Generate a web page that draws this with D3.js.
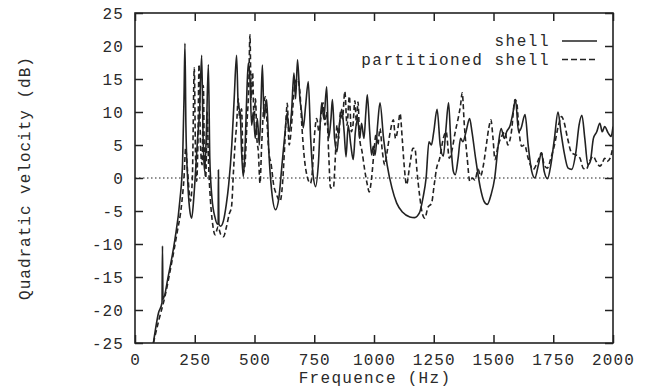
<!DOCTYPE html>
<html>
<head>
<meta charset="utf-8">
<script src="https://cdn.jsdelivr.net/npm/d3@7"></script>
<style>
  html, body { margin: 0; padding: 0; background: #fff; }
  text { font-family: "Liberation Mono", "Courier New", monospace; fill: #2a2a2a; }
</style>
</head>
<body>
<svg id="chart" width="649" height="389"></svg>
<script>
// [frequency Hz, level dB]
const shellPoints = [
  [77,-25],[98,-20.5],[113,-18.9],[115,-10.3],[117,-18.4],[139,-14.9],[167,-9.3],[188,-3.3],
  [199,2.3],[205,12],[209,20.4],[213,8],[220,0],[228,-4.5],[237,-6.1],[246,-3],[255,2],
  [262,6],[270,10],[279,18.6],[285,6],[291,1],[298,6],[307,17.2],[313,3],[322,-3],[335,-6],
  [345,-7],[348,-6.8],[349,1.2],[351,-7],[358,-7.3],[370,-6.5],[382,-4],[392,-1],[405,5],
  [415,12],[425,18.6],[432,11],[440,10],[446,4],[453,0.2],[460,4],[468,12.9],[474,17.4],
  [481,15],[488,8],[495,10],[503,6],[512,9],[520,5],[527,11],[533,17.1],[540,9],[551,11.9],
  [560,4],[572,-2],[588,-4.8],[602,-3],[615,2],[628,7],[636,9.8],[645,7],[655,10],[665,15.9],
  [672,12],[680,17.9],[690,12],[697,10],[704,7.6],[714,11],[725,14.6],[735,6],[745,0.5],
  [756,-1.3],[767,2],[781,11.4],[790,9],[802,13.8],[810,6],[820,9],[826,11.9],[835,6],[845,4],
  [855,8],[865,10.4],[875,7],[883,3.2],[892,8],[903,5],[913,2.8],[922,7],[932,9],[940,6],
  [948,8.3],[958,6],[966,10],[972,12.6],[982,7],[990,3.5],[997,4.8],[1005,3.5],[1015,8],
  [1025,11.4],[1040,6],[1055,2],[1075,-1.5],[1095,-3.8],[1120,-5.2],[1150,-5.9],[1170,-6],
  [1190,-5.3],[1205,-3],[1218,0],[1230,5.5],[1240,5],[1250,7],[1264,10.4],[1277,5],[1290,3.3],
  [1300,7],[1312,11.4],[1322,5],[1332,1],[1340,0.5],[1352,3],[1362,6],[1372,5.5],[1385,7],
  [1400,9],[1410,7],[1425,3],[1445,-1.5],[1460,-3.5],[1474,-4],[1490,-2.5],[1505,0],[1520,5],
  [1532,7.5],[1545,6],[1555,7],[1570,8],[1582,10],[1592,11.9],[1605,7],[1615,7.5],[1632,9.6],
  [1645,5],[1660,1],[1673,0],[1688,2],[1701,3.8],[1712,1],[1726,-0.1],[1740,2],[1755,6],
  [1770,10],[1782,7],[1795,4],[1812,1.5],[1827,1.3],[1845,4],[1858,8],[1870,9.5],[1882,6],
  [1895,2],[1905,2.5],[1918,6],[1932,7],[1945,8.3],[1955,7],[1965,7.8],[1980,6.8],[1992,6.3],
  [2000,7.8]
];

const partitionedPoints = [
  [77,-25],[100,-21.5],[125,-18],[150,-13.5],[175,-8.5],[195,-4],[205,0],[212,4.5],[220,1],
  [232,-3.5],[240,0],[248,16.7],[253,4],[258,-0.5],[263,5],[268,17.2],[274,5],[281,2],[286,14],
  [290,4],[296,0],[302,10],[307,3],[315,-3],[325,-7],[335,-8.6],[348,-7.4],[358,-8.5],[370,-8.9],
  [382,-7.5],[394,-5.5],[404,-4.3],[412,1],[418,4.8],[425,8],[432,12],[438,9],[446,10.5],
  [453,0.8],[460,2],[468,8],[476,14],[481,21.7],[486,12],[492,16],[498,9],[504,12],[510,6],
  [516,4],[523,-0.8],[530,5],[537,10],[545,12.3],[553,8],[560,4],[570,2],[580,-1],[592,-2.5],
  [607,-3.5],[617,-1],[625,4],[632,9],[637,11.3],[645,5],[655,8],[663,12],[670,14.5],[680,15],
  [690,13],[698,8],[706,4],[716,1],[734,-0.8],[742,1],[750,6],[760,9],[770,7],[780,10],[787,11.4],
  [795,8],[802,10],[810,4],[818,-1.5],[830,-1.5],[838,3],[845,8],[852,6],[860,10],[868,9],
  [878,13.1],[887,8],[897,12.4],[905,7],[912,8],[920,11.7],[927,8],[933,11.5],[940,6],[950,4],
  [962,1],[972,-1],[980,-2.1],[990,0],[1000,4],[1008,6.5],[1016,5],[1025,7.5],[1035,4],[1045,2],
  [1055,4],[1068,7],[1081,8.8],[1090,6],[1100,7.5],[1109,9.8],[1118,6],[1126,2],[1136,-1],
  [1150,2],[1163,4.5],[1171,4.5],[1180,1],[1192,-3],[1203,-5.5],[1213,-6.1],[1225,-4.5],
  [1241,-3.8],[1252,-1],[1262,1.5],[1275,3],[1290,6],[1302,7],[1315,3],[1325,4],[1340,7],
  [1352,9],[1362,11],[1369,12.9],[1378,8],[1390,3],[1401,-0.5],[1412,0],[1422,-0.3],[1436,1.3],
  [1446,0.3],[1458,2],[1470,5],[1480,7.5],[1489,8.8],[1498,6],[1506,2.8],[1520,5],[1534,6.3],
  [1548,7],[1560,5],[1575,7],[1590,11.9],[1597,11.5],[1607,7],[1618,4.8],[1630,5],[1645,3],
  [1666,1.3],[1685,2.5],[1701,3.8],[1712,2],[1725,1.5],[1740,3],[1755,5],[1772,8],[1785,9.3],
  [1795,8.5],[1810,6],[1827,3.8],[1845,3.5],[1862,3],[1875,1.5],[1888,1.3],[1902,2.5],
  [1917,3.3],[1930,2.5],[1945,1.8],[1955,2.2],[1965,3],[1975,2.5],[1988,3],[2000,4.8]
];

const xTicks = [0, 250, 500, 750, 1000, 1250, 1500, 1750, 2000];
const yTicks = [-25, -20, -15, -10, -5, 0, 5, 10, 15, 20, 25];
const seriesNames = ['shell', 'partitioned shell'];

const margin = { top: 13, right: 36, bottom: 46, left: 135 };
const width = 649 - margin.left - margin.right;
const height = 389 - margin.top - margin.bottom;
const ink = '#222';
const plain = d => String(d); // hyphen minus, no thousands comma

const svg = d3.select('#chart');
const g = svg.append('g').attr('transform', `translate(${margin.left},${margin.top})`);

const x = d3.scaleLinear().domain([0, 2000]).range([0, width]);
const y = d3.scaleLinear().domain([-25, 25]).range([height, 0]);

g.append('clipPath').attr('id', 'plot-clip')
  .append('rect').attr('width', width).attr('height', height);

// dotted zero line
g.append('line')
  .attr('x1', 0).attr('x2', width)
  .attr('y1', y(0)).attr('y2', y(0))
  .attr('stroke', ink).attr('stroke-width', 1.2)
  .attr('stroke-dasharray', '1.5,2.5');

const line = d3.line()
  .x(d => x(d[0]))
  .y(d => y(d[1]))
  .curve(d3.curveMonotoneX);

const curves = g.append('g').attr('clip-path', 'url(#plot-clip)');
curves.append('path').datum(partitionedPoints)
  .attr('d', line).attr('fill', 'none')
  .attr('stroke', ink).attr('stroke-width', 1.6)
  .attr('stroke-dasharray', '5,3');
curves.append('path').datum(shellPoints)
  .attr('d', line).attr('fill', 'none')
  .attr('stroke', ink).attr('stroke-width', 1.6);

// axes, ticks pointing inwards, mirrored on top/right
const styleAxis = sel => {
  sel.select('.domain').remove();
  sel.selectAll('.tick line').attr('stroke', ink).attr('stroke-width', 1.5);
  sel.selectAll('.tick text')
    .style('font-size', '16px')
    .style('letter-spacing', '1.1px')
    .attr('fill', '#2a2a2a');
};

g.append('g').attr('transform', `translate(0,${height})`)
  .call(d3.axisBottom(x).tickValues(xTicks).tickSize(-8).tickPadding(11).tickFormat(plain))
  .call(styleAxis);
g.append('g')
  .call(d3.axisTop(x).tickValues(xTicks).tickSize(-8).tickFormat(''))
  .call(styleAxis);
g.append('g')
  .call(d3.axisLeft(y).tickValues(yTicks).tickSize(-8).tickPadding(11).tickFormat(plain))
  .call(styleAxis);
g.append('g').attr('transform', `translate(${width},0)`)
  .call(d3.axisRight(y).tickValues(yTicks).tickSize(-8).tickFormat(''))
  .call(styleAxis);

g.append('rect')
  .attr('width', width).attr('height', height)
  .attr('fill', 'none').attr('stroke', ink).attr('stroke-width', 1.6);

// axis titles
svg.append('text')
  .attr('x', margin.left + width / 2 + 1).attr('y', 383)
  .attr('text-anchor', 'middle')
  .style('font-size', '16px')
  .style('letter-spacing', '1.3px')
  .text('Frequence (Hz)');

svg.append('text')
  .attr('transform', `translate(30,${margin.top + height / 2}) rotate(-90)`)
  .attr('text-anchor', 'middle')
  .style('font-size', '16px')
  .style('letter-spacing', '1px')
  .attr('fill', '#555')
  .text('Quadratic velocity (dB)');

// legend
const legend = svg.append('g');
seriesNames.forEach((name, i) => {
  const ly = 46 + i * 18.5;
  legend.append('text')
    .attr('x', 550).attr('y', ly)
    .attr('text-anchor', 'end')
    .style('font-size', '16px')
    .style('letter-spacing', '1.5px')
    .text(name);
  legend.append('line')
    .attr('x1', 562).attr('x2', 597)
    .attr('y1', ly - 5).attr('y2', ly - 5)
    .attr('stroke', ink).attr('stroke-width', 1.6)
    .attr('stroke-dasharray', i === 0 ? null : '6,3');
});
</script>
</body>
</html>
